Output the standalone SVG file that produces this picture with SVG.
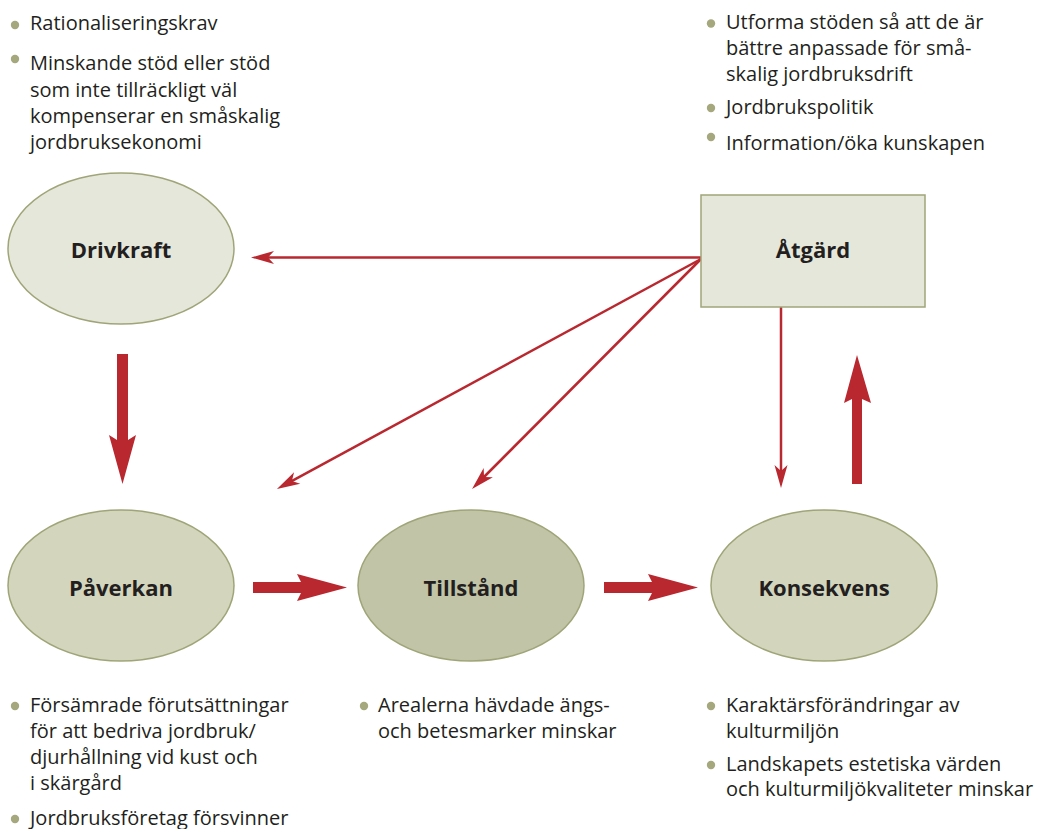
<svg xmlns="http://www.w3.org/2000/svg" width="1040" height="829" viewBox="0 0 1040 829">
<style>
.t{font-family:"Open Sans","Liberation Sans",sans-serif;font-size:20px;fill:#231f20}
.lbl{font-family:"Open Sans","Liberation Sans",sans-serif;font-size:22px;font-weight:bold;fill:#231f20;text-anchor:middle}
.b{fill:#a5a77c}
.n1{fill:#e6e7db;stroke:#a0a578;stroke-width:1.5}
.n2{fill:#d3d5bd;stroke:#a0a578;stroke-width:1.5}
.n3{fill:#c1c4a6;stroke:#a0a578;stroke-width:1.5}
.thin{stroke:#b9272f;stroke-width:2.5;fill:none}
.thick{fill:#b9272f}
</style>
<defs>
<marker id="ah" markerUnits="userSpaceOnUse" viewBox="-12 -8 26 16" refX="0" refY="0" markerWidth="26" markerHeight="16" orient="auto">
<path d="M12,0 L-11,-6.5 L-5,0 L-11,6.5 Z" fill="#b9272f"/>
</marker>
</defs>
<rect width="1040" height="829" fill="#ffffff"/>

<g id="connectors">
<line class="thin" x1="701" y1="257.5" x2="263" y2="257.5" marker-end="url(#ah)"/>
<line class="thin" x1="701" y1="259" x2="287.5" y2="483.3" marker-end="url(#ah)"/>
<line class="thin" x1="701" y1="259" x2="480.5" y2="480.5" marker-end="url(#ah)"/>
<line class="thin" x1="781" y1="307" x2="781" y2="476" marker-end="url(#ah)"/>
<polygon class="thick" points="117,354 128,354 128,440 136,435 122.5,484 109,435 117,440"/>
<polygon class="thick" points="852,484 862,484 862,399 871,403 857,355 844,403 852,399"/>
<polygon class="thick" points="253,582 301,582 297,574 347,587.5 297,601 301,593 253,593"/>
<polygon class="thick" points="604,582 652,582 648,574 698,587.5 648,601 652,593 604,593"/>
</g>

<g id="drivkraft">
<ellipse class="n1" cx="121" cy="248.5" rx="113" ry="75.5"/>
<text class="lbl" x="121" y="258">Drivkraft</text>
</g>
<g id="atgard">
<rect class="n1" x="701" y="195" width="224" height="112"/>
<text class="lbl" x="813" y="258">Åtgärd</text>
</g>
<g id="paverkan">
<ellipse class="n2" cx="121" cy="585.5" rx="113" ry="75.5"/>
<text class="lbl" x="121" y="596">Påverkan</text>
</g>
<g id="tillstand">
<ellipse class="n3" cx="471" cy="585.5" rx="113" ry="75.5"/>
<text class="lbl" x="471" y="596">Tillstånd</text>
</g>
<g id="konsekvens">
<ellipse class="n2" cx="824" cy="585.5" rx="113" ry="75.5"/>
<text class="lbl" x="824" y="596">Konsekvens</text>
</g>

<g id="drivkraft-notes">
<circle class="b" cx="15" cy="25" r="4.2"/>
<text class="t" x="30" y="30">Rationaliseringskrav</text>
<circle class="b" cx="15" cy="59" r="4.2"/>
<text class="t" x="30" y="70">Minskande stöd eller stöd</text>
<text class="t" x="30" y="96.5">som inte tillräckligt väl</text>
<text class="t" x="30" y="123">kompenserar en småskalig</text>
<text class="t" x="30" y="149">jordbruksekonomi</text>
</g>
<g id="atgard-notes">
<circle class="b" cx="711" cy="23.5" r="4.2"/>
<text class="t" x="726" y="29">Utforma stöden så att de är</text>
<text class="t" x="726" y="55">bättre anpassade för små-</text>
<text class="t" x="726" y="81">skalig jordbruksdrift</text>
<circle class="b" cx="711" cy="108" r="4.2"/>
<text class="t" x="726" y="114">Jordbrukspolitik</text>
<circle class="b" cx="711" cy="137" r="4.2"/>
<text class="t" x="726" y="150">Information/öka kunskapen</text>
</g>
<g id="paverkan-notes">
<circle class="b" cx="15" cy="706" r="4.2"/>
<text class="t" x="30" y="712">Försämrade förutsättningar</text>
<text class="t" x="30" y="738">för att bedriva jordbruk/</text>
<text class="t" x="30" y="764">djurhållning vid kust och</text>
<text class="t" x="30" y="790">i skärgård</text>
<circle class="b" cx="15" cy="819" r="4.2"/>
<text class="t" x="30" y="825">Jordbruksföretag försvinner</text>
</g>
<g id="tillstand-notes">
<circle class="b" cx="364" cy="706" r="4.2"/>
<text class="t" x="378" y="712">Arealerna hävdade ängs-</text>
<text class="t" x="378" y="738">och betesmarker minskar</text>
</g>
<g id="konsekvens-notes">
<circle class="b" cx="711" cy="706" r="4.2"/>
<text class="t" x="726" y="712">Karaktärsförändringar av</text>
<text class="t" x="726" y="738">kulturmiljön</text>
<circle class="b" cx="711" cy="765" r="4.2"/>
<text class="t" x="726" y="771">Landskapets estetiska värden</text>
<text class="t" x="726" y="796">och kulturmiljökvaliteter minskar</text>
</g>
</svg>
